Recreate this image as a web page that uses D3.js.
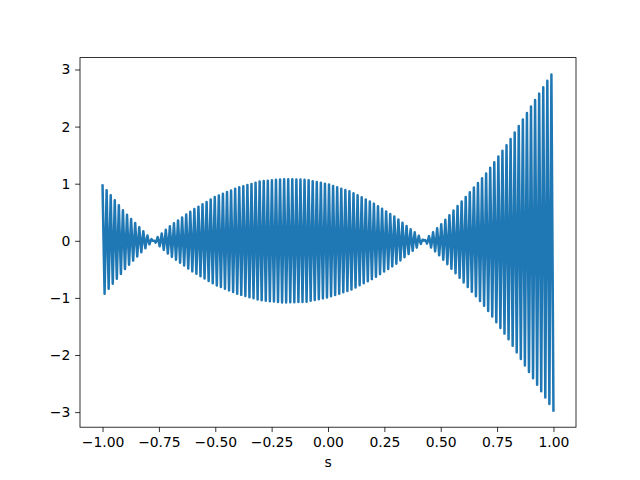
<!DOCTYPE html>
<html><head><meta charset="utf-8">
<script src="https://cdn.jsdelivr.net/npm/d3@7"></script>
<style>body{margin:0;background:#fff}svg{display:block}text{font-family:"DejaVu Sans",sans-serif}</style>
</head><body>
<script>
// Envelope of the oscillation (signed amplitude at knot positions)
const envS   = [-1.0,-0.9,-0.8,-0.7,-0.6,-0.5,-0.4,-0.3,-0.2,-0.1,0.0,0.1,0.2,0.3,0.4,0.5,0.6,0.7,0.8,0.9,1.0];
const envAmp = [0.97,0.49,0.09,-0.26,-0.54,-0.77,-0.93,-1.04,-1.08,-1.07,-0.99,-0.86,-0.66,-0.41,-0.10,0.28,0.72,1.17,1.72,2.35,2.97];
const cycles = 110.5;          // number of oscillations across s = -1 .. 1
const xTicks = [-1.0,-0.75,-0.5,-0.25,0.0,0.25,0.5,0.75,1.0];
const yTicks = [-3,-2,-1,0,1,2,3];
const xLabel = "s";

const W=640,H=480, L=80, R=576, T=57.6, B=427.2;
const envScale = d3.scaleLinear().domain(envS).range(envAmp);
const perHalf = 2;   // samples per half oscillation
const nSamp = Math.round(2*cycles*perHalf);
const data = d3.range(nSamp+1).map(i=>{
  const s = -1 + 2*i/nSamp;
  return [s, envScale(s)*Math.cos(Math.PI*cycles*(s+1))];
});
const [ymin,ymax] = d3.extent(data,d=>d[1]);
const ym=(ymax-ymin)*0.05;
const x = d3.scaleLinear().domain([-1.1,1.1]).range([L,R]);
const y = d3.scaleLinear().domain([ymin-ym,ymax+ym]).range([B,T]);

const svg=d3.select("body").append("svg").attr("width",W).attr("height",H);
svg.append("rect").attr("width",W).attr("height",H).attr("fill","#fff");
svg.append("defs").append("clipPath").attr("id","c").append("rect")
  .attr("x",L).attr("y",T).attr("width",R-L).attr("height",B-T);
svg.append("path").datum(data).attr("clip-path","url(#c)")
  .attr("fill","none").attr("stroke","#1f77b4").attr("stroke-width",2.5)
  .attr("stroke-linejoin","round").attr("stroke-linecap","square")
  .attr("d",d3.line().x(d=>x(d[0])).y(d=>y(d[1])));

const fmtX=d=>d3.format(".2f")(d).replace("-","\u2212");
const fmtY=d=>String(d).replace("-","\u2212");
const gx=svg.append("g").attr("transform",`translate(0,${B})`)
  .call(d3.axisBottom(x).tickValues(xTicks).tickFormat(fmtX).tickSize(4.86).tickPadding(4.86));
const gy=svg.append("g").attr("transform",`translate(${L},0)`)
  .call(d3.axisLeft(y).tickValues(yTicks).tickFormat(fmtY).tickSize(4.86).tickPadding(4.86));
[gx,gy].forEach(g=>{
  g.select(".domain").remove();
  g.selectAll("line").attr("stroke","#000").attr("stroke-width",0.8);
  g.selectAll("text").attr("fill","#000").style("font-size","13.9px").style("font-family","DejaVu Sans");
});
svg.append("rect").attr("x",L).attr("y",T).attr("width",R-L).attr("height",B-T)
  .attr("fill","none").attr("stroke","#000").attr("stroke-width",0.8);
svg.append("text").attr("x",(L+R)/2).attr("y",467).attr("text-anchor","middle")
  .style("font-size","13.9px").text(xLabel);
</script>
</body></html>
